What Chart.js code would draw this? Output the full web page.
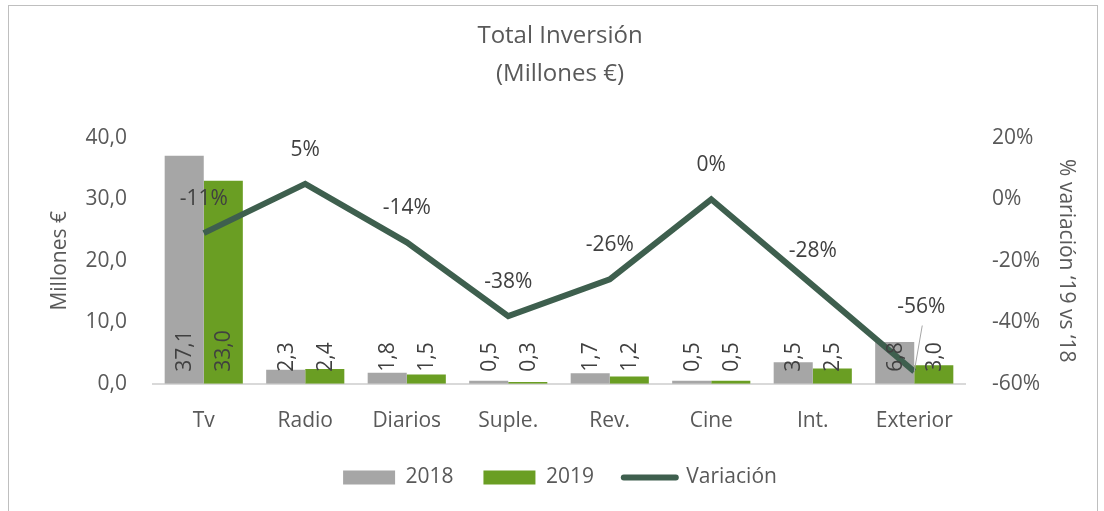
<!DOCTYPE html>
<html>
<head>
<meta charset="utf-8">
<script src="https://cdn.jsdelivr.net/npm/chart.js@4"></script>
<style>
  body { margin: 0; background: #fff; }
  #wrap { position: relative; width: 1104px; height: 511px; }
</style>
</head>
<body>
<div id="wrap"><canvas id="myChart" width="1104" height="511"></canvas></div>
<script>
const categories = ['Tv', 'Radio', 'Diarios', 'Suple.', 'Rev.', 'Cine', 'Int.', 'Exterior'];
const values2018 = [37.1, 2.3, 1.8, 0.5, 1.7, 0.5, 3.5, 6.8];
const values2019 = [33.0, 2.4, 1.5, 0.3, 1.2, 0.5, 2.5, 3.0];
const variacion = [-11, 5, -14, -38, -26, 0, -28, -56];

const textColor = '#595959';
const fontFamily = '"Open Sans", sans-serif';

const fmt = (v) => v.toFixed(1).replace('.', ',');

// border round the chart
const frame = {
  id: 'frame',
  beforeDraw: (chart) => {
    const ctx = chart.ctx;
    ctx.save();
    ctx.strokeStyle = '#BFBFBF';
    ctx.lineWidth = 1;
    ctx.strokeRect(8.5, 5.5, 1089, 520);
    ctx.restore();
  },
};

// value labels: bars rotated from the base, line labels above points
const labels = {
  id: 'labels',
  afterDatasetsDraw: (chart) => {
    const ctx = chart.ctx;
    ctx.save();
    ctx.font = '21px ' + fontFamily;
    ctx.fillStyle = '#404040';
    [0, 1].forEach((i) => {
      const meta = chart.getDatasetMeta(i);
      meta.data.forEach((el, j) => {
        ctx.save();
        ctx.translate(el.x, el.base - 12);
        ctx.rotate(-Math.PI / 2);
        ctx.textAlign = 'left';
        ctx.textBaseline = 'middle';
        ctx.fillText(fmt(chart.data.datasets[i].data[j]), 0, 1);
        ctx.restore();
      });
    });
    const meta = chart.getDatasetMeta(2);
    ctx.textAlign = 'center';
    ctx.textBaseline = 'middle';
    meta.data.forEach((pt, j) => {
      let x = pt.x, y = pt.y - 34;
      if (j === meta.data.length - 1) {
        x = pt.x + 7;
        y = pt.y - 64;
        ctx.strokeStyle = '#A6A6A6';
        ctx.lineWidth = 1;
        ctx.beginPath();
        ctx.moveTo(pt.x + 8, y + 18);
        ctx.lineTo(pt.x, pt.y);
        ctx.stroke();
      }
      ctx.fillText(variacion[j] + '%', x, y);
    });
    ctx.restore();
  },
};

const ctx = document.getElementById('myChart').getContext('2d');
new Chart(ctx, {
  data: {
    labels: categories,
    datasets: [
      {
        type: 'bar',
        label: '2018',
        data: values2018,
        backgroundColor: '#A6A6A6',
        yAxisID: 'y',
        order: 2,
        barPercentage: 1,
        categoryPercentage: 0.77,
      },
      {
        type: 'bar',
        label: '2019',
        data: values2019,
        backgroundColor: '#6A9E23',
        yAxisID: 'y',
        order: 2,
        barPercentage: 1,
        categoryPercentage: 0.77,
      },
      {
        type: 'line',
        label: 'Variación',
        data: variacion,
        borderColor: '#3E5F4E',
        backgroundColor: '#3E5F4E',
        borderWidth: 6,
        pointRadius: 0,
        tension: 0,
        yAxisID: 'y1',
        order: 1,
      },
    ],
  },
  options: {
    responsive: false,
    animation: false,
    layout: {
      padding: { left: 36, right: 20, top: 0, bottom: 13 },
    },
    plugins: {
      title: {
        display: true,
        text: ['Total Inversión', '(Millones €)'],
        color: textColor,
        font: { family: fontFamily, size: 24, weight: 'normal', lineHeight: 1.6 },
        padding: { top: 17, bottom: 44 },
      },
      legend: {
        position: 'bottom',
        labels: {
          color: textColor,
          font: { family: fontFamily, size: 21 },
          usePointStyle: true,
          pointStyleWidth: 52,
          boxHeight: 14,
          padding: 8,
          generateLabels: (chart) =>
            chart.data.datasets.map((ds, i) => ({
              text: ds.type === 'line' ? ds.label : ds.label + '    ',
              datasetIndex: i,
              fillStyle: ds.backgroundColor,
              strokeStyle: ds.type === 'line' ? ds.borderColor : ds.backgroundColor,
              lineWidth: ds.type === 'line' ? 6 : 0,
              lineCap: 'round',
              pointStyle: ds.type === 'line' ? 'line' : 'rect',
              fontColor: textColor,
            })),
        },
      },
      tooltip: { enabled: false },
    },
    scales: {
      x: {
        grid: { display: false, drawTicks: false },
        border: { color: '#D9D9D9', width: 2 },
        ticks: { color: textColor, font: { family: fontFamily, size: 21 }, padding: 25 },
      },
      y: {
        position: 'left',
        min: 0,
        max: 40,
        grid: { display: false, drawTicks: false },
        border: { display: false },
        ticks: {
          stepSize: 10,
          color: textColor,
          padding: 26,
          font: { family: fontFamily, size: 21 },
          callback: (v) => fmt(v),
        },
        title: {
          display: true,
          text: 'Millones €',
          color: textColor,
          font: { family: fontFamily, size: 21 },
          padding: 11,
        },
        afterFit: (scale) => { scale.width = 117; },
      },
      y1: {
        position: 'right',
        min: -60,
        max: 20,
        grid: { display: false, drawTicks: false },
        border: { display: false },
        ticks: {
          stepSize: 20,
          color: textColor,
          padding: 27,
          font: { family: fontFamily, size: 21 },
          callback: (v) => v + '%',
        },
        title: {
          display: true,
          text: '% variación ‘19 vs ‘18',
          color: textColor,
          font: { family: fontFamily, size: 21 },
          padding: 5,
        },
        afterFit: (scale) => { scale.width = 119; },
      },
    },
  },
  plugins: [frame, labels],
});
</script>
</body>
</html>
